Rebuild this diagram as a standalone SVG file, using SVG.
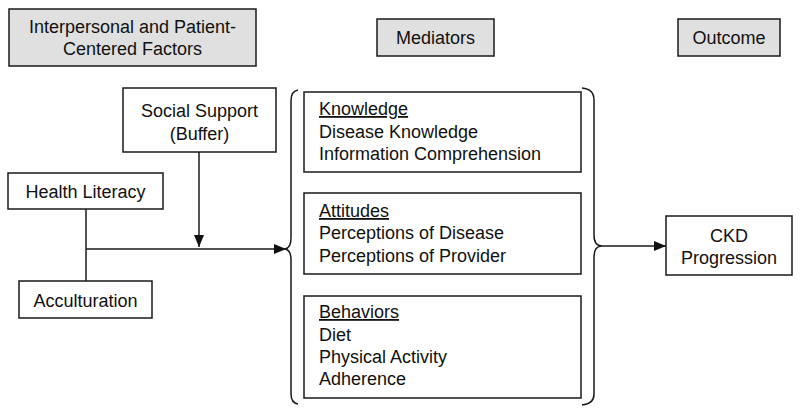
<svg xmlns="http://www.w3.org/2000/svg" width="800" height="413" viewBox="0 0 800 413">
<style>
  .box { fill: #ffffff; stroke: #1a1a1a; stroke-width: 1.5; }
  .hdr { fill: #e0e0e0; stroke: #1a1a1a; stroke-width: 1.5; }
  text { font-family: "Liberation Sans", Arial, sans-serif; font-size: 18px; fill: #111; }
  .c { text-anchor: middle; }
  .u { text-decoration: underline; }
  .line { fill: none; stroke: #1a1a1a; stroke-width: 1.5; }
</style>
<defs>
  <marker id="arr" markerWidth="12" markerHeight="10" refX="12" refY="5" orient="auto" markerUnits="userSpaceOnUse">
    <path d="M0,0 L12,5 L0,10 Z" fill="#111"/>
  </marker>
</defs>
<rect width="800" height="413" fill="#ffffff"/>

<g id="hdr-factors">
  <rect class="hdr" x="9" y="9" width="247" height="57"/>
  <text class="c" x="132.5" y="33">Interpersonal and Patient-</text>
  <text class="c" x="132.5" y="55">Centered Factors</text>
</g>
<g id="hdr-mediators">
  <rect class="hdr" x="377" y="19" width="117" height="37"/>
  <text class="c" x="435.5" y="44">Mediators</text>
</g>
<g id="hdr-outcome">
  <rect class="hdr" x="678" y="19" width="102" height="37"/>
  <text class="c" x="729" y="44">Outcome</text>
</g>

<g id="social-support">
  <rect class="box" x="123" y="88" width="153" height="64"/>
  <text class="c" x="199.5" y="117">Social Support</text>
  <text class="c" x="199.5" y="140">(Buffer)</text>
</g>
<g id="health-literacy">
  <rect class="box" x="8" y="173" width="155" height="36"/>
  <text class="c" x="85.5" y="198">Health Literacy</text>
</g>
<g id="acculturation">
  <rect class="box" x="19" y="281" width="133" height="37"/>
  <text class="c" x="85.5" y="307">Acculturation</text>
</g>

<g id="knowledge">
  <rect class="box" x="304" y="92" width="277" height="80"/>
  <text class="u" x="319" y="115">Knowledge</text>
  <text x="319" y="138">Disease Knowledge</text>
  <text x="319" y="160">Information Comprehension</text>
</g>
<g id="attitudes">
  <rect class="box" x="304" y="193" width="277" height="81"/>
  <text class="u" x="319" y="217">Attitudes</text>
  <text x="319" y="239">Perceptions of Disease</text>
  <text x="319" y="262">Perceptions of Provider</text>
</g>
<g id="behaviors">
  <rect class="box" x="304" y="296" width="277" height="102"/>
  <text class="u" x="319" y="318">Behaviors</text>
  <text x="319" y="341">Diet</text>
  <text x="319" y="363">Physical Activity</text>
  <text x="319" y="385">Adherence</text>
</g>

<g id="ckd">
  <rect class="box" x="666" y="216" width="126" height="59"/>
  <text class="c" x="729" y="242">CKD</text>
  <text class="c" x="729" y="264">Progression</text>
</g>

<g id="connectors">
  <path class="line" d="M86 209 L86 281"/>
  <path class="line" d="M86 249 L286 249" marker-end="url(#arr)"/>
  <path class="line" d="M199 152 L199 247" marker-end="url(#arr)"/>
  <path class="line" d="M298 90 Q291 91 291 101 L291 238 Q291 248 285 249 Q291 250 291 260 L291 394 Q291 403 298 404"/>
  <path class="line" d="M582 88 Q594 89 594 100 L594 235 Q594 246 602 246 Q594 246 594 257 L594 394 Q594 404 582 405"/>
  <path class="line" d="M602 246 L666 246" marker-end="url(#arr)"/>
</g>
</svg>
